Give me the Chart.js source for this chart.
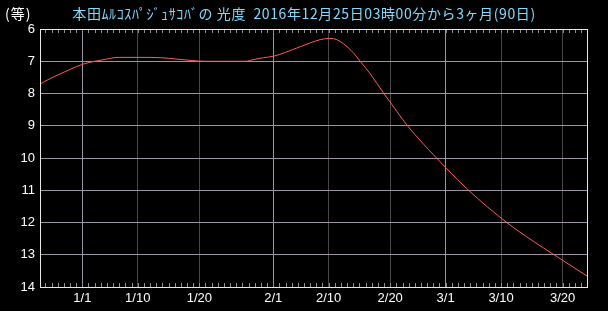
<!DOCTYPE html>
<html>
<head>
<meta charset="utf-8">
<script src="https://cdn.jsdelivr.net/npm/chart.js@4"></script>
<style>
  html, body { margin: 0; padding: 0; background: #000; }
  #wrap { width: 608px; height: 311px; position: relative; }
</style>
</head>
<body>
<div id="wrap"><canvas id="magChart"></canvas></div>
<script>
// 2016-12-25 03:00 からの経過日数と光度(等)
const days = [0, 1.6, 3.2, 4.9, 7.0, 8.9, 10.6, 12.7, 16.1, 19.6, 22.6, 26.8, 30.9, 33.4, 34.6, 36.3,
  38.0, 41.7, 43.9, 45.5, 47.1, 48.2, 49.3, 50.9, 52.0, 53.6, 55.8, 57.0, 59.6, 62.2, 64.4, 66.0,
  69.6, 75.8, 80.1, 83.5, 89];
const mags = [7.71, 7.54, 7.40, 7.25, 7.09, 7.00, 6.94, 6.88, 6.88, 6.89, 6.94, 7.00, 7.00, 7.00, 6.95, 6.89,
  6.84, 6.59, 6.43, 6.33, 6.29, 6.33, 6.46, 6.74, 7.00, 7.38, 7.99, 8.30, 8.98, 9.55, 10.00, 10.32,
  11.00, 12.00, 12.58, 13.00, 13.68];

// x軸の目盛り (日付と経過日数)
const tickLabels = ['1/1', '1/10', '1/20', '2/1', '2/10', '2/20', '3/1', '3/10', '3/20'];
const tickDays = [6.875, 15.875, 25.875, 37.875, 46.875, 56.875, 65.875, 74.875, 84.875];
const monthStarts = ['1/1', '2/1', '3/1'];
const minorDays = [];
for (let d = 1; d < 89; d++) minorDays.push(d - 0.125);

const titleText = '本田ﾑﾙｺｽﾊﾟｼﾞｭｻｺﾊﾞの 光度  2016年12月25日03時00分から3ヶ月(90日)';
const unitText = '(等)';

const gridLight = '#9c94a4';
const gridDark = '#4a464c';

const decor = {
  id: 'decor',
  afterDraw(chart) {
    const ctx = chart.ctx;
    const area = chart.chartArea;
    const x = chart.scales.x;
    ctx.save();
    // 日ごとの小目盛り
    ctx.strokeStyle = '#909090';
    ctx.lineWidth = 1;
    ctx.beginPath();
    minorDays.forEach(d => {
      const px = Math.round(x.getPixelForValue(d)) + 0.5;
      ctx.moveTo(px, area.top);
      ctx.lineTo(px, area.top + 4);
      ctx.moveTo(px, area.bottom);
      ctx.lineTo(px, area.bottom - 4);
    });
    ctx.stroke();
    // 枠
    ctx.strokeStyle = '#e8e8e8';
    ctx.strokeRect(area.left + 0.5, area.top + 0.5, area.right - area.left - 1, area.bottom - area.top);
    // タイトル
    ctx.textBaseline = 'middle';
    ctx.font = '14px "Noto Sans CJK JP"';
    ctx.letterSpacing = '1px';
    ctx.fillStyle = '#ffffff';
    ctx.textAlign = 'left';
    ctx.fillText(unitText, 5, 14);
    ctx.letterSpacing = '0.6px';
    ctx.fillStyle = '#80dcff';
    ctx.textAlign = 'center';
    ctx.fillText(titleText, 304, 14);
    ctx.restore();
  }
};

const ctx = document.getElementById('magChart').getContext('2d');

new Chart(ctx, {
  type: 'line',
  data: {
    datasets: [{
      data: days.map((d, i) => ({ x: d, y: mags[i] })),
      borderColor: '#ff5a5a',
      borderWidth: 1,
      pointRadius: 0,
      fill: false,
      cubicInterpolationMode: 'monotone'
    }]
  },
  options: {
    responsive: true,
    maintainAspectRatio: false,
    animation: false,
    layout: { padding: { top: 29, right: 20, left: 0, bottom: 0 } },
    plugins: {
      legend: { display: false },
      tooltip: { enabled: false }
    },
    scales: {
      x: {
        type: 'linear',
        min: 0,
        max: 89,
        afterBuildTicks: scale => { scale.ticks = tickDays.map(v => ({ value: v })); },
        afterFit: scale => { scale.height = 24; },
        border: { display: false },
        grid: {
          drawTicks: false,
          color: c => (c.tick && monthStarts.includes(tickLabels[tickDays.indexOf(c.tick.value)])) ? gridLight : gridDark
        },
        ticks: {
          color: '#ffffff',
          padding: 4,
          maxRotation: 0,
          autoSkip: false,
          font: { family: 'Liberation Sans', size: 13 },
          callback: v => tickLabels[tickDays.indexOf(v)]
        }
      },
      y: {
        reverse: true,
        min: 6,
        max: 14,
        afterFit: scale => { scale.width = 40; },
        border: { display: false },
        grid: { drawTicks: false, color: gridLight },
        ticks: {
          stepSize: 1,
          color: '#ffffff',
          padding: 5,
          font: { family: 'Liberation Sans', size: 13 }
        }
      }
    }
  },
  plugins: [decor]
});
</script>
</body>
</html>
